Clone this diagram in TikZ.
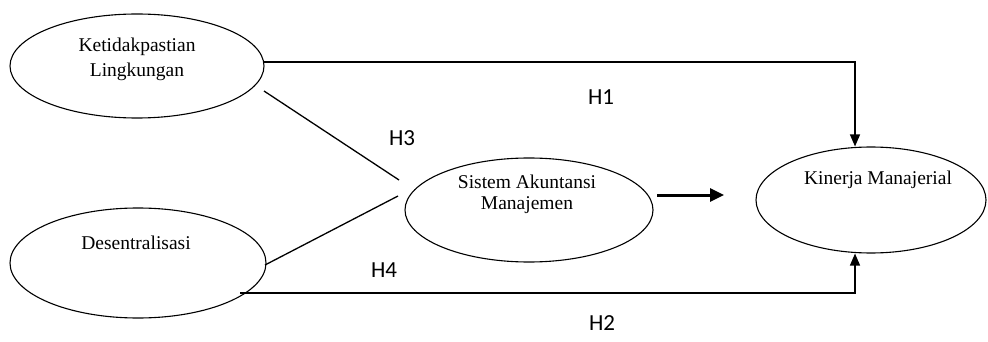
\documentclass[tikz,border=0pt]{standalone}
\usepackage{fontspec}
\setmainfont{Liberation Serif}
\newfontfamily\hfont{Carlito}
\usetikzlibrary{shapes.geometric,arrows.meta}
\begin{document}
\begin{tikzpicture}[x=1pt,y=-1pt,
  var/.style={draw,ellipse,line width=1.1pt,inner sep=0pt},
  vtext/.style={font=\fontsize{19.5}{22}\selectfont,inner sep=0pt,anchor=center},
  hlab/.style={font=\hfont\fontsize{23}{26}\selectfont,inner sep=0pt,anchor=center},
  conn/.style={line width=1.3pt},
  arr/.style={line width=1.3pt,-{Triangle[width=10pt,length=12pt]}},
  bigarr/.style={line width=3pt,-{Triangle[width=13pt,length=14pt]}}]
\useasboundingbox (0,0) rectangle (988,342);
% ellipses
\node[var,minimum width=254pt,minimum height=104pt] (ket) at (137,66) {};
\node[var,minimum width=256pt,minimum height=110pt] (des) at (138,263) {};
\node[var,minimum width=248pt,minimum height=104pt] (sam) at (529,210) {};
\node[var,minimum width=230pt,minimum height=106pt] (kin) at (871,200) {};
% texts
\node[vtext] (t1) at (137,47) {Ketidakpastian};
\node[vtext] (t2) at (137,72) {Lingkungan};
\node[vtext] (t3) at (136,243) {Desentralisasi};
\node[vtext] (t4) at (527,182) {Sistem Akuntansi};
\node[vtext] (t5) at (527,205) {Manajemen};
\node[vtext] (t6) at (878,180) {Kinerja Manajerial};
% labels
\node[hlab] (h1) at (601,97) {H1};
\node[hlab] (h3) at (402,138) {H3};
\node[hlab] (h4) at (384,270) {H4};
\node[hlab] (h2) at (602,323) {H2};
% connectors
\coordinate (k1) at (263,62);
\coordinate (kinTop) at ([xshift=-16pt]kin.north);
\coordinate (kinBot) at ([xshift=-16pt]kin.south);
\draw[arr] (k1) -| (kinTop);
\coordinate (d1) at (240,293);
\draw[arr] (d1) -| (kinBot);
\coordinate (l3a) at (264,91);
\coordinate (l3b) at (399,180);
\draw[conn] (l3a) -- (l3b);
\coordinate (l4a) at (265,265);
\coordinate (l4b) at (398,196);
\draw[conn] (l4a) -- (l4b);
\coordinate (a1) at (657,195);
\coordinate (a2) at (724,195);
\draw[bigarr] (a1) -- (a2);
\end{tikzpicture}
\end{document}
